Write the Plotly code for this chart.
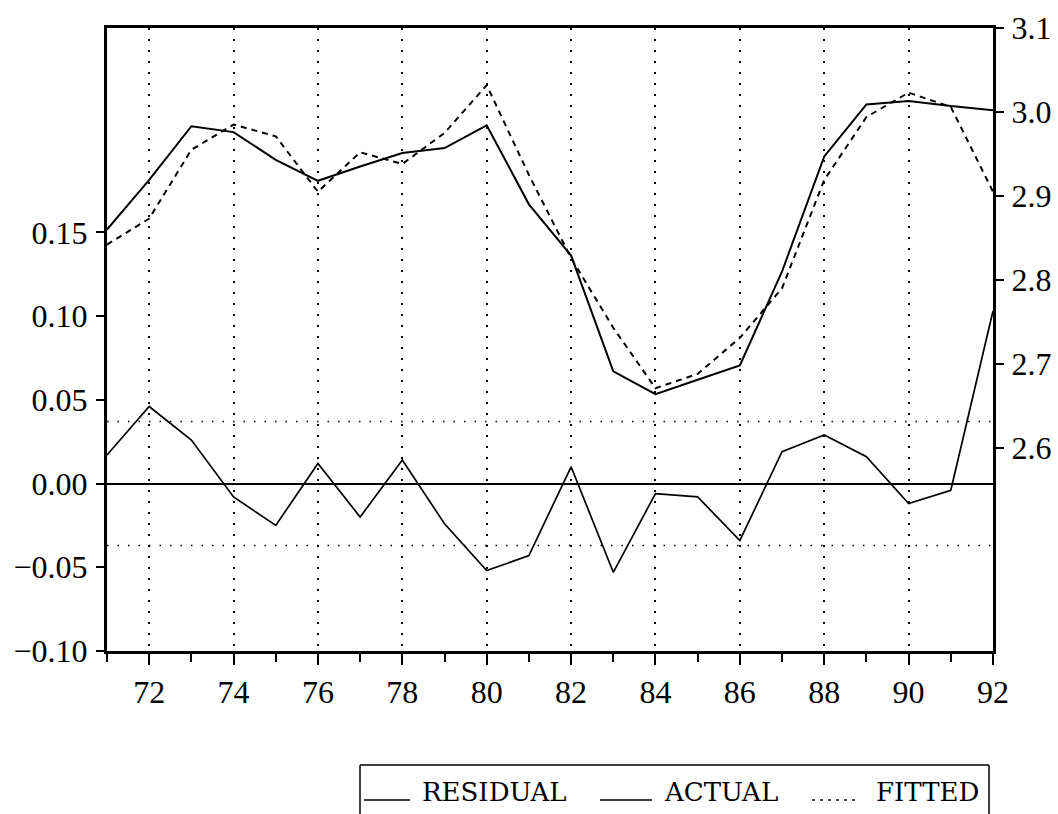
import plotly.graph_objects as go

# Annual observations 1971-1992 (two-digit year labels)
years = [71, 72, 73, 74, 75, 76, 77, 78, 79, 80, 81,
         82, 83, 84, 85, 86, 87, 88, 89, 90, 91, 92]

# Regression residuals (left axis)
residual = [0.017, 0.046, 0.026, -0.008, -0.025, 0.012, -0.020, 0.014, -0.024, -0.052, -0.043,
            0.010, -0.053, -0.006, -0.008, -0.034, 0.019, 0.029, 0.016, -0.012, -0.004, 0.103]

# Actual and fitted values of the dependent variable (right axis)
actual = [2.860, 2.919, 2.983, 2.976, 2.943, 2.918, 2.935, 2.951, 2.957, 2.984, 2.890,
          2.829, 2.691, 2.664, 2.681, 2.698, 2.810, 2.947, 3.009, 3.013, 3.007, 3.002]
fitted = [2.842, 2.873, 2.955, 2.985, 2.971, 2.905, 2.952, 2.938, 2.975, 3.032, 2.925,
          2.826, 2.743, 2.671, 2.688, 2.731, 2.790, 2.919, 2.994, 3.023, 3.006, 2.905]

# Standard error of the regression, drawn as +/- band around zero
std_err = 0.037

series_names = ["RESIDUAL", "ACTUAL", "FITTED"]

left_ticks = [-0.10, -0.05, 0.00, 0.05, 0.10, 0.15]
right_ticks = [2.6, 2.7, 2.8, 2.9, 3.0, 3.1]

W, H = 1058, 814
ML, MR, MT, MB = 107, 65, 28, 163
PW, PH = W - ML - MR, H - MT - MB

TICK_FAMILY = "Liberation Serif"
LEGEND_FAMILY = "DejaVu Serif"


def px_x(px):
    return (px - ML) / PW


def px_y(py):
    return (H - MB - py) / PH


fig = go.Figure()

# +/- one standard error band (dotted)
for s in (std_err, -std_err):
    fig.add_trace(go.Scatter(
        x=[years[0], years[-1]], y=[s, s], mode="lines",
        line=dict(color="black", width=1.4, dash="1.5px,9px"),
        yaxis="y", showlegend=False, hoverinfo="skip"))

fig.add_trace(go.Scatter(
    x=years, y=residual, mode="lines", name=series_names[0],
    line=dict(color="black", width=1.7), yaxis="y", showlegend=False))

fig.add_trace(go.Scatter(
    x=years, y=actual, mode="lines", name=series_names[1],
    line=dict(color="black", width=2), yaxis="y2", showlegend=False))

fig.add_trace(go.Scatter(
    x=years, y=fitted, mode="lines", name=series_names[2],
    line=dict(color="black", width=2, dash="6px,5px"), yaxis="y2", showlegend=False))

tick_font = dict(family=TICK_FAMILY, size=32, color="black")

fig.update_layout(
    width=W, height=H,
    margin=dict(l=ML, r=MR, t=MT, b=MB, autoexpand=False),
    paper_bgcolor="white", plot_bgcolor="white",
    showlegend=False,
    xaxis=dict(
        range=[years[0], years[-1]], automargin=False,
        tickmode="linear", tick0=72, dtick=2,
        ticks="outside", ticklen=11, tickwidth=2, tickcolor="black",
        minor=dict(tick0=71, dtick=1, ticks="outside", ticklen=8,
                   tickwidth=2, tickcolor="black", showgrid=False),
        showgrid=True, gridcolor="black", gridwidth=1.5, griddash="1.5px,9.5px",
        showline=True, linewidth=3, linecolor="black", mirror=True,
        zeroline=False, tickfont=tick_font,
    ),
    yaxis=dict(
        range=[-0.10, 0.272], automargin=False,
        tickmode="array", tickvals=left_ticks, tickformat=".2f",
        ticks="outside", ticklen=8, tickwidth=2, tickcolor="black",
        ticklabelstandoff=2,
        showgrid=False,
        zeroline=True, zerolinecolor="black", zerolinewidth=1.6,
        showline=True, linewidth=3, linecolor="black",
        tickfont=tick_font,
    ),
    yaxis2=dict(
        range=[2.358, 3.1], overlaying="y", side="right", automargin=False,
        tickmode="array", tickvals=right_ticks, tickformat=".1f",
        ticks="outside", ticklen=8, tickwidth=2, tickcolor="black",
        ticklabelstandoff=1,
        showgrid=False, zeroline=False,
        showline=True, linewidth=3, linecolor="black",
        tickfont=tick_font,
    ),
)

# Legend box below the chart
box_l, box_r, box_t, box_b = 360, 989, 765, 840
line_y = 800
legend_shapes = [
    dict(type="line", x0=px_x(box_l), x1=px_x(box_r), y0=px_y(box_t), y1=px_y(box_t)),
    dict(type="line", x0=px_x(box_l), x1=px_x(box_l), y0=px_y(box_t), y1=px_y(box_b)),
    dict(type="line", x0=px_x(box_r), x1=px_x(box_r), y0=px_y(box_t), y1=px_y(box_b)),
]
for s in legend_shapes:
    s.update(xref="paper", yref="paper", line=dict(color="black", width=1.5))
    fig.add_shape(**s)

samples = [(364, 410, "solid", 420), (600, 652, "solid", 662), (812, 856, "3px,5px", 874)]
for (x0, x1, dash, tx), name in zip(samples, series_names):
    fig.add_shape(type="line", xref="paper", yref="paper",
                  x0=px_x(x0), x1=px_x(x1), y0=px_y(line_y), y1=px_y(line_y),
                  line=dict(color="black", width=1.6, dash=dash))
    fig.add_annotation(text=name, xref="paper", yref="paper",
                       x=px_x(tx), y=px_y(792), xanchor="left", yanchor="middle",
                       showarrow=False,
                       font=dict(family=LEGEND_FAMILY, size=26, color="black"))

fig.write_html("out.html")
